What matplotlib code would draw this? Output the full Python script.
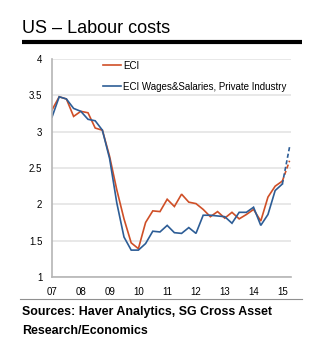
import matplotlib
matplotlib.use("Agg")
import matplotlib.pyplot as plt
from matplotlib.lines import Line2D

plt.rcParams['font.family'] = ['Liberation Sans', 'DejaVu Sans']

# Quarterly observations, 2007 Q1 onwards (y/y %)
eci = [3.30, 3.48, 3.45, 3.21, 3.28, 3.26, 3.05, 3.02,
       2.66, 2.20, 1.80, 1.47, 1.39, 1.75, 1.91, 1.90,
       2.07, 1.97, 2.14, 2.03, 2.01, 1.93, 1.83, 1.90,
       1.81, 1.89, 1.80, 1.86, 1.93, 1.77, 2.10, 2.25,
       2.32, 2.60]
wages = [3.20, 3.48, 3.45, 3.32, 3.28, 3.17, 3.15, 3.02,
         2.63, 2.02, 1.55, 1.37, 1.37, 1.46, 1.63, 1.62,
         1.71, 1.61, 1.60, 1.68, 1.60, 1.85, 1.85, 1.84,
         1.83, 1.74, 1.89, 1.89, 1.96, 1.71, 1.86, 2.19,
         2.28, 2.79]
year_labels = ["07", "08", "09", "10", "11", "12", "13", "14", "15"]
yticks = [1, 1.5, 2, 2.5, 3, 3.5, 4]
series_names = ["ECI", "ECI Wages&Salaries, Private Industry"]

red = "#cf4f27"
blue = "#2d5d96"

fig = plt.figure(figsize=(3.21, 3.40), dpi=100)
ax = fig.add_axes([52/321, 1-277/340, (291-52)/321, (277-59)/340])

x = [2007 + i/4 for i in range(len(eci))]
n_solid = len(eci) - 1
ax.plot(x[:n_solid], eci[:n_solid], color=red, lw=1.2, solid_joinstyle='miter')
ax.plot(x[n_solid-1:], eci[n_solid-1:], color=red, lw=1.2, ls=(0, (2.5, 1.5)))
ax.plot(x[:n_solid], wages[:n_solid], color=blue, lw=1.2, solid_joinstyle='miter')
ax.plot(x[n_solid-1:], wages[n_solid-1:], color=blue, lw=1.2, ls=(0, (2.5, 1.5)))

ax.set_xlim(2007, 2007 + 33.2/4)
ax.set_ylim(1, 4)
ax.set_yticks(yticks)
ax.set_yticklabels([f"{t:g}" for t in yticks])
ax.set_xticks([2007 + i for i in range(len(year_labels))])
ax.set_xticklabels(year_labels)
ax.tick_params(length=0, labelsize=7, pad=7, colors="#000000")
ax.grid(axis='y', color="#e4e4e4", lw=1.2)
ax.set_axisbelow(True)
for s in ['top', 'right']:
    ax.spines[s].set_visible(False)
for s in ['left', 'bottom']:
    ax.spines[s].set_color("#b5b5b5")
    ax.spines[s].set_linewidth(1.2)

handles = [Line2D([], [], color=red, lw=1.2), Line2D([], [], color=blue, lw=1.2)]
ax.legend(handles, series_names, loc='upper left',
          bbox_to_anchor=((99 - 52)/239, 1 + 2/218),
          frameon=False, fontsize=7, handlelength=1.9, handletextpad=0.15,
          labelspacing=1.1, borderaxespad=0.0)

fig.text(22/321, 1-33/340, "US \u2013 Labour costs", fontsize=13, ha='left',
         va='baseline')
fig.add_artist(Line2D([22/321, 302/321], [1-42/340, 1-42/340], color='black',
                      lw=3, transform=fig.transFigure, solid_capstyle='butt'))
fig.add_artist(Line2D([20/321, 302/321], [1-299/340, 1-299/340], color='#909090',
                      lw=0.8, transform=fig.transFigure))
fig.text(22/321, 1-315/340, "Sources: Haver Analytics, SG Cross Asset",
         fontsize=8.9, fontweight='bold', ha='left', va='baseline')
fig.text(22/321, 1-334/340, "Research/Economics",
         fontsize=8.9, fontweight='bold', ha='left', va='baseline')

fig.savefig("out.png", dpi=100, facecolor='white')
